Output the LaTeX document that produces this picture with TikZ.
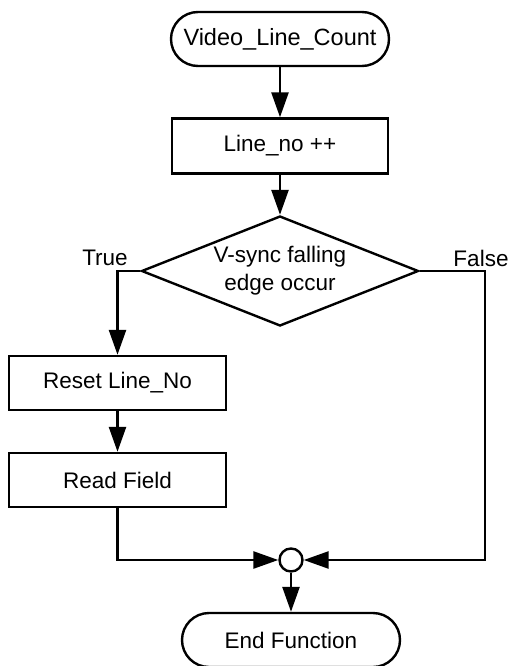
\documentclass[tikz,border=0pt]{standalone}
\usepackage{fontspec}
\setmainfont{Liberation Sans}
\usetikzlibrary{shapes.geometric,arrows.meta}
\begin{document}
\begin{tikzpicture}[x=1pt,y=-1pt,
  line width=2.4pt,
  txt/.style={font=\fontsize{22.5}{28}\selectfont},
  terminal/.style={draw, rounded corners=27pt, minimum width=218pt, minimum height=54pt, inner sep=0pt, txt},
  procbox/.style={draw, rectangle, minimum width=216pt, minimum height=55pt, inner sep=0pt, txt},
  decision/.style={draw, diamond, minimum width=277pt, minimum height=110pt, inner sep=0pt},
  junction/.style={draw, circle, minimum size=23pt, inner sep=0pt},
  flow/.style={-{Triangle[length=25pt,width=17pt]}, line width=2.6pt},
  lbl/.style={txt, inner sep=0pt}
]
\useasboundingbox (0,0) rectangle (512,666);
\fill[white] (0,0) rectangle (512,666);

\node[terminal, font=\fontsize{23.5}{28}\selectfont] (start) at (280,39) {Video\_Line\_Count};
\node[procbox] (inc) at (280,146) {Line\_no ++};
\node[decision] (dec) at (280,271) {};
\node[lbl, align=center] (dectxt) at (280,271) {V-sync falling\\edge occur};
\node[lbl] (ltrue) at (105,258) {True};
\node[lbl] (lfalse) at (481,258) {False};
\node[procbox, minimum width=217pt, minimum height=54pt] (reset) at (117.5,383) {Reset Line\_No};
\node[procbox, minimum width=217pt, minimum height=54pt] (read) at (117.5,480) {Read Field};
\node[junction] (junc) at (291,560) {};
\node[terminal] (end) at (291,640) {End Function};
\coordinate (fcorner) at (485,560);

\draw[flow] (start) -- (inc);
\draw[flow] (inc) -- (dec.north);
\draw[flow] (dec.west) -| (reset.north);
\draw[flow] (reset) -- (read);
\draw[flow] (read.south) |- (junc.west);
\draw[flow] (dec.east) -| (fcorner) -- (junc.east);
\draw[flow] (junc.south) -- (end.north);
\end{tikzpicture}
\end{document}
